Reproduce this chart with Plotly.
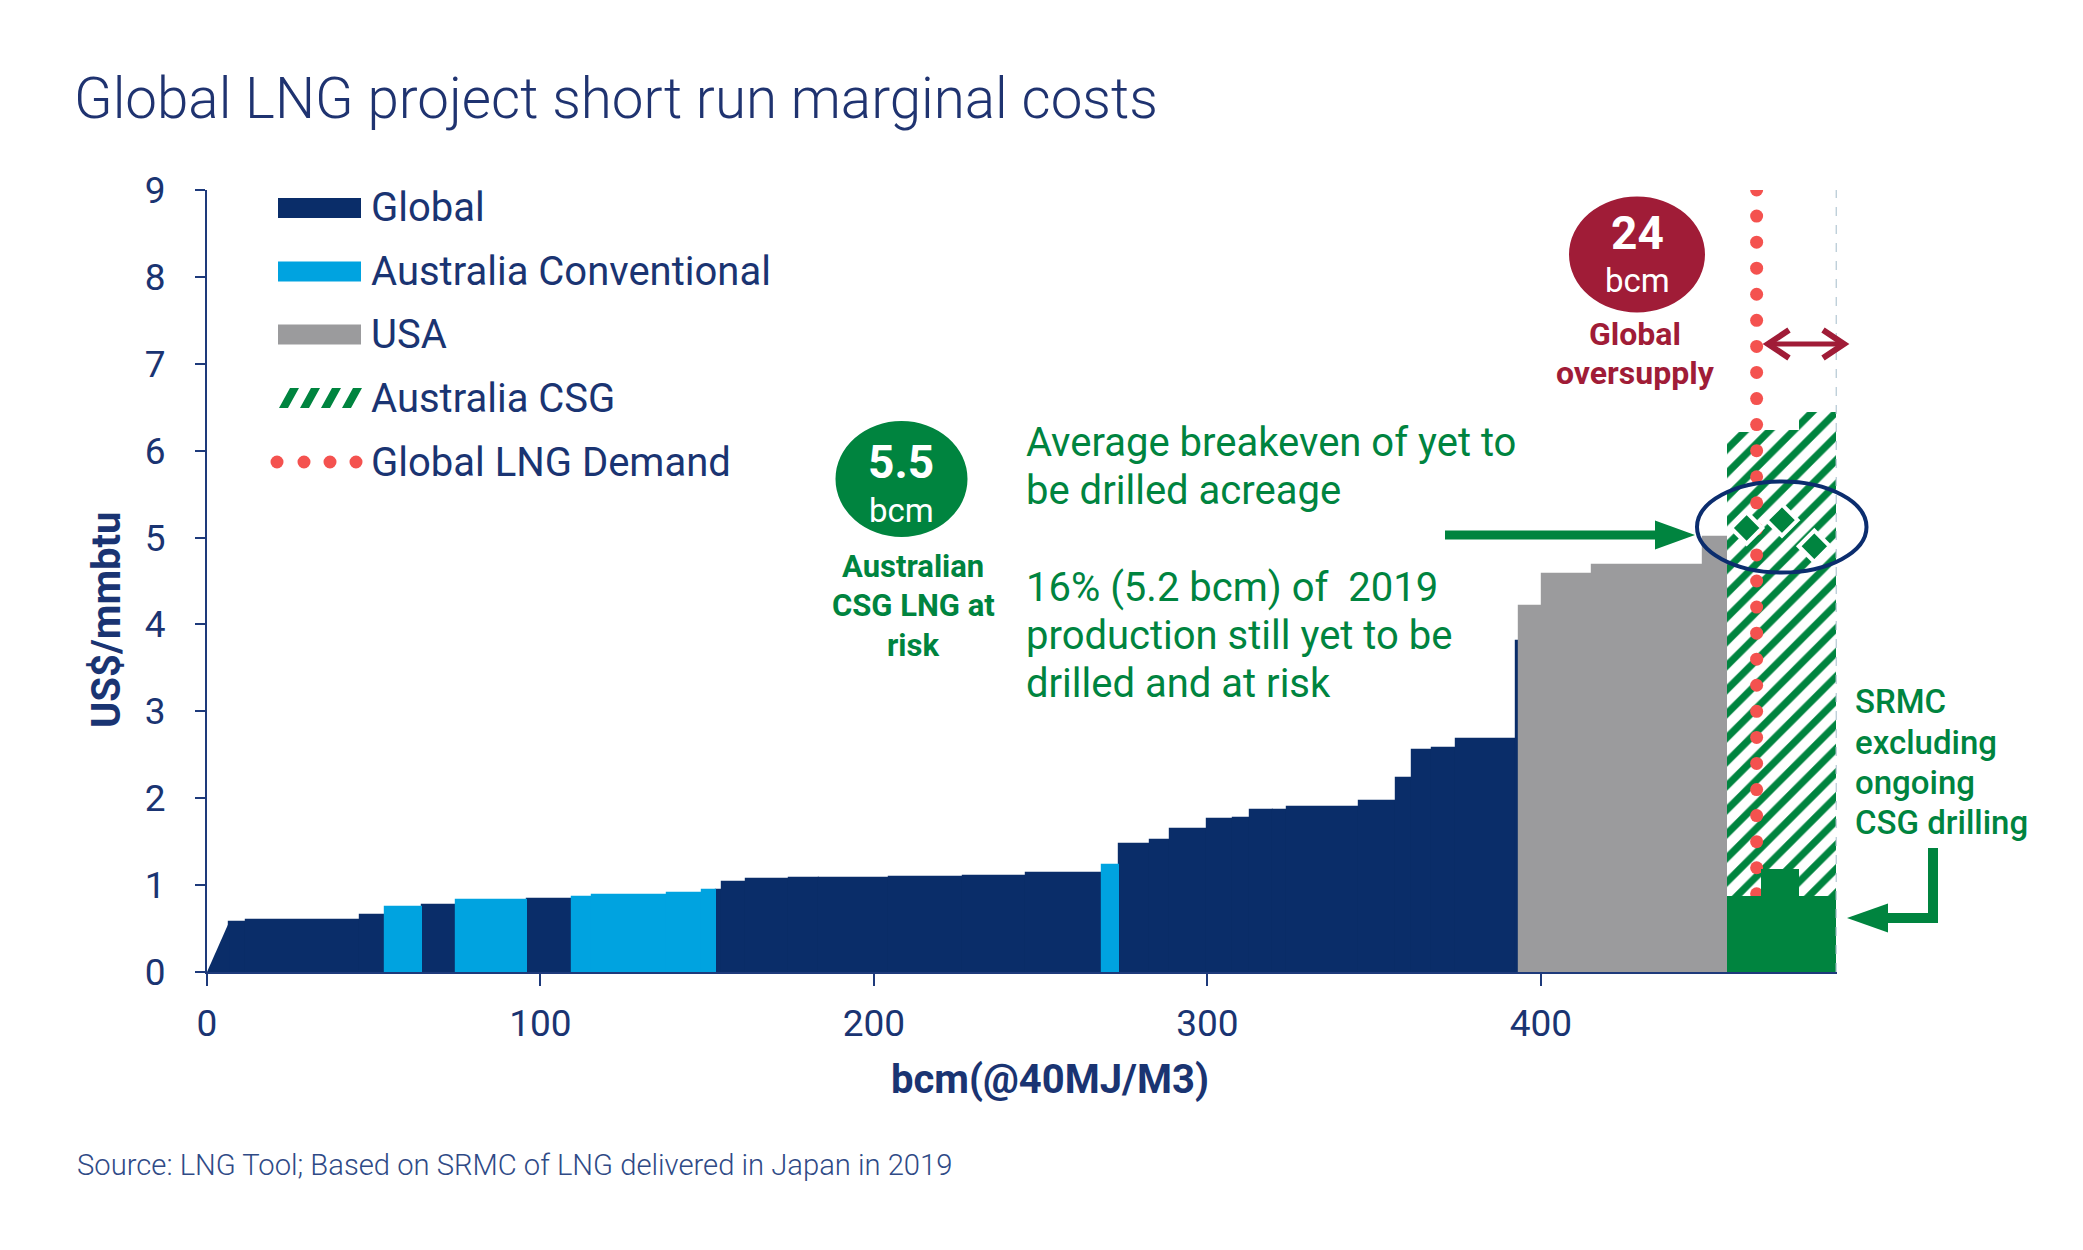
import numpy as np
import plotly.graph_objects as go

# ---------------- data ----------------
curve_start_bcm = 6.7
seg_end_bcm = [11.8, 45.8, 53.5, 64.6, 74.6, 95.9, 109.6, 115.6, 137.8, 148.5,
               152.5, 154.5, 161.5, 174.5, 183.6, 204.6, 226.6, 245.6, 268.5, 273.6,
               282.9, 288.9, 299.8, 307.8, 312.8, 319.8, 323.8, 345.5, 356.6, 361.5,
               367.4, 374.5, 392.6, 393.5, 400.3, 415.4, 448.7, 455.7]
seg_cost = [0.58, 0.60, 0.66, 0.75, 0.77, 0.83, 0.84, 0.86, 0.89, 0.905,
            0.94, 0.94, 1.04, 1.07, 1.08, 1.085, 1.09, 1.11, 1.14, 1.23,
            1.47, 1.52, 1.65, 1.76, 1.77, 1.86, 1.87, 1.90, 1.97, 2.23,
            2.55, 2.58, 2.68, 3.81, 4.21, 4.58, 4.68, 5.01]
seg_region = ["Global", "Global", "Global", "Australia Conventional", "Global",
              "Australia Conventional", "Global", "Australia Conventional",
              "Australia Conventional", "Australia Conventional",
              "Australia Conventional", "Global", "Global", "Global", "Global",
              "Global", "Global", "Global", "Global", "Australia Conventional",
              "Global", "Global", "Global", "Global", "Global", "Global", "Global",
              "Global", "Global", "Global", "Global", "Global", "Global", "Global",
              "USA", "USA", "USA", "USA"]

csg_end_bcm = [465.9, 477.3, 488.6]
csg_full_cost = [6.21, 6.24, 6.45]
csg_srmc_excl_drilling = [0.87, 1.19, 0.87]
breakeven_bcm = [461.7, 472.3, 482.0]
breakeven_cost = [5.11, 5.20, 4.90]
global_demand_bcm = 464.7

x_ticks = [0, 100, 200, 300, 400]
y_ticks = [0, 1, 2, 3, 4, 5, 6, 7, 8, 9]

# ---------------- style ----------------
NAVY = "#0A2D69"
CYAN = "#00A3E0"
GRAY = "#9B9B9D"
GREEN = "#00843F"
RED = "#F4524F"
MAROON = "#A01C37"
TXT = "#1A3472"
FONT = "Roboto, 'Open Sans', sans-serif"
region_color = {"Global": NAVY, "Australia Conventional": CYAN, "USA": GRAY}

W, H = 2083, 1250
L, R, T, B = 207, 1837, 190, 972
XMAX = 488.8


def px(X):
    return (X - L) / (R - L)


def py(Y):
    return (B - Y) / (B - T)


def P(X, Y):
    return f"{px(X):.5f},{py(Y):.5f}"


fig = go.Figure()

ends = np.array(seg_end_bcm)
starts = np.concatenate([[curve_start_bcm], ends[:-1]])
widths = ends - starts
mids = (starts + ends) / 2
costs = np.array(seg_cost)
regions = np.array(seg_region)

for reg in ["Global", "Australia Conventional", "USA"]:
    m = regions == reg
    fig.add_trace(go.Bar(
        x=mids[m], y=costs[m], width=widths[m], name=reg,
        marker=dict(color=region_color[reg], line=dict(width=1.2, color=region_color[reg])),
        showlegend=False, hoverinfo="skip"))

# ramp at start of curve
fig.add_trace(go.Scatter(
    x=[0, starts[0], starts[0]], y=[0, costs[0], 0], mode="lines",
    fill="toself", fillcolor=NAVY, line=dict(width=0, color=NAVY),
    showlegend=False, hoverinfo="skip"))

c_end = np.array(csg_end_bcm)
c_start = np.concatenate([[ends[-1]], c_end[:-1]])
c_w = c_end - c_start
c_mid = (c_start + c_end) / 2

fig.add_trace(go.Bar(
    x=c_mid, y=csg_full_cost, width=c_w, name="Australia CSG",
    marker=dict(color="white", line=dict(width=0),
                pattern=dict(shape="/", fgcolor=GREEN, bgcolor="white",
                             size=17, solidity=0.42, fillmode="replace")),
    showlegend=False, hoverinfo="skip"))

dot_y = np.arange(0, 9.0001, 0.3)
fig.add_trace(go.Scatter(
    x=[global_demand_bcm] * len(dot_y), y=dot_y, mode="markers",
    marker=dict(size=13, color=RED), name="Global LNG Demand",
    showlegend=False, hoverinfo="skip"))

# overlay subplot (drawn above demand dots)
fig.add_trace(go.Bar(
    x=c_mid, y=csg_srmc_excl_drilling, width=c_w, name="SRMC excl. drilling",
    marker=dict(color=GREEN, line=dict(width=0)), xaxis="x2", yaxis="y2",
    showlegend=False, hoverinfo="skip"))
fig.add_trace(go.Scatter(
    x=breakeven_bcm, y=breakeven_cost, mode="markers", xaxis="x2", yaxis="y2",
    marker=dict(symbol="diamond", size=24, color=GREEN, line=dict(color="white", width=4)),
    showlegend=False, hoverinfo="skip"))

shapes = []
annotations = []


def text(X, Y, s, size, color, weight=400, xanchor="left", angle=0):
    annotations.append(dict(
        x=px(X), y=py(Y), xref="paper", yref="paper", text=s, showarrow=False,
        xanchor=xanchor, yanchor="middle", textangle=angle,
        font=dict(family=FONT, size=size, color=color, weight=weight)))


# ---- legend (drawn inside plot) ----
legend_rows = [("Global", 208), ("Australia Conventional", 271.5), ("USA", 334.5),
               ("Australia CSG", 398), ("Global LNG Demand", 462)]
for (lab, yc) in legend_rows:
    text(369, yc, lab, 40, TXT)
for lab, yc in legend_rows[:3]:
    shapes.append(dict(type="rect", xref="paper", yref="paper", x0=px(278), x1=px(361),
                       y0=py(yc + 10), y1=py(yc - 10),
                       fillcolor=region_color[lab], line=dict(width=0)))
hatch_path = ""
for xb in [279, 300, 321, 342]:
    hatch_path += f"M{P(xb, 408)} L{P(xb + 9, 408)} L{P(xb + 20, 388)} L{P(xb + 11, 388)} Z "
shapes.append(dict(type="path", xref="paper", yref="paper", path=hatch_path,
                   fillcolor=GREEN, line=dict(width=0)))
for xc in [277, 304, 330, 356]:
    shapes.append(dict(type="circle", xref="paper", yref="paper",
                       x0=px(xc - 6.5), x1=px(xc + 6.5), y0=py(462 + 6.5), y1=py(462 - 6.5),
                       fillcolor=RED, line=dict(width=0)))

# ---- right boundary line ----
shapes.append(dict(type="line", xref="x", yref="y", x0=csg_end_bcm[-1], x1=csg_end_bcm[-1],
                   y0=0, y1=9, line=dict(color="#BFD0DA", width=1.5, dash="dash")))

# ---- green bubble ----
shapes.append(dict(type="circle", xref="paper", yref="paper", x0=px(835.5), x1=px(967.5),
                   y0=py(537), y1=py(421), fillcolor=GREEN, line=dict(width=0)))
text(901, 462, "<b>5.5</b>", 46, "white", 700, "center")
text(901, 510, "bcm", 33, "white", 400, "center")
text(913, 566, "Australian", 31, GREEN, 700, "center")
text(913, 605, "CSG LNG at", 31, GREEN, 700, "center")
text(913, 645, "risk", 31, GREEN, 700, "center")

# ---- green paragraphs ----
for s, yc in [("Average breakeven of yet to", 442), ("be drilled acreage", 490),
              ("16% (5.2 bcm) of  2019", 587), ("production still yet to be", 635),
              ("drilled and at risk", 683)]:
    text(1024, yc, s, 40, GREEN)

# ---- green horizontal arrow ----
shapes.append(dict(type="line", xref="paper", yref="paper", x0=px(1445), x1=px(1660),
                   y0=py(535), y1=py(535), line=dict(color=GREEN, width=9)))
shapes.append(dict(type="path", xref="paper", yref="paper",
                   path=f"M{P(1695, 535)} L{P(1655, 520.5)} L{P(1655, 549.5)} Z",
                   fillcolor=GREEN, line=dict(width=0)))

# ---- ellipse ----
shapes.append(dict(type="circle", xref="paper", yref="paper", x0=px(1697), x1=px(1866.5),
                   y0=py(572.5), y1=py(481.5), line=dict(color="#0B2D6E", width=4)))

# ---- maroon bubble ----
shapes.append(dict(type="circle", xref="paper", yref="paper", x0=px(1569), x1=px(1705),
                   y0=py(312.5), y1=py(196.5), fillcolor=MAROON, line=dict(width=0)))
text(1637, 233, "<b>24</b>", 46, "white", 700, "center")
text(1637, 281, "bcm", 33, "white", 400, "center")
text(1635, 334, "Global", 32, MAROON, 700, "center")
text(1635, 373, "oversupply", 32, MAROON, 700, "center")

# ---- maroon double arrow ----
shapes.append(dict(type="line", xref="paper", yref="paper", x0=px(1769), x1=px(1843),
                   y0=py(344), y1=py(344), line=dict(color=MAROON, width=5)))
shapes.append(dict(type="path", xref="paper", yref="paper",
                   path=f"M{P(1789, 330)} L{P(1768, 344)} L{P(1789, 358)}",
                   line=dict(color=MAROON, width=6)))
shapes.append(dict(type="path", xref="paper", yref="paper",
                   path=f"M{P(1823, 330)} L{P(1844, 344)} L{P(1823, 358)}",
                   line=dict(color=MAROON, width=6)))

# ---- SRMC note & elbow arrow ----
for s, yc in [("SRMC", 701), ("excluding", 742), ("ongoing", 782), ("CSG drilling", 822)]:
    text(1853, yc, s, 33, GREEN, 500)
shapes.append(dict(type="line", xref="paper", yref="paper", x0=px(1933), x1=px(1933),
                   y0=py(848), y1=py(923), line=dict(color=GREEN, width=10)))
shapes.append(dict(type="line", xref="paper", yref="paper", x0=px(1938), x1=px(1880),
                   y0=py(918), y1=py(918), line=dict(color=GREEN, width=10)))
shapes.append(dict(type="path", xref="paper", yref="paper",
                   path=f"M{P(1847, 918)} L{P(1888, 903.5)} L{P(1888, 932.5)} Z",
                   fillcolor=GREEN, line=dict(width=0)))

# ---- axis titles & source ----
text(1050, 1079, "<b>bcm(@40MJ/M3)</b>", 40, TXT, 700, "center")
text(106, 620, "<b>US$/mmbtu</b>", 40, TXT, 700, "center", angle=-90)
text(75, 1165, "Source: LNG Tool; Based on SRMC of LNG delivered in Japan in 2019",
     29.2, "#2F4A86", 300)

axis_common = dict(showgrid=False, zeroline=False, showline=True, linecolor="#1E3A7B",
                   linewidth=2, ticks="outside", tickcolor="#1E3A7B", tickwidth=2,
                   tickfont=dict(family=FONT, size=37, color=TXT))

fig.update_layout(
    width=W, height=H, margin=dict(l=L, r=W - R, t=T, b=H - B),
    paper_bgcolor="white", plot_bgcolor="white", barmode="overlay", bargap=0,
    showlegend=False,
    title=dict(text="Global LNG project short run marginal costs", x=74 / W, xanchor="left",
               xref="container", y=1 - 98 / H, yref="container", yanchor="middle",
               font=dict(family=FONT, size=56.5, color="#1F3370", weight=300)),
    xaxis=dict(range=[0, XMAX], tickvals=x_ticks, ticklen=12, ticklabelstandoff=6,
               **axis_common),
    yaxis=dict(range=[0, 9], tickvals=y_ticks, ticklen=10, ticklabelstandoff=22,
               **axis_common),
    xaxis2=dict(range=[0, XMAX], overlaying="x", anchor="y2", visible=False),
    yaxis2=dict(range=[0, 9], overlaying="y", anchor="x2", visible=False),
    shapes=shapes, annotations=annotations,
)

fig.write_html("out.html", config={"displayModeBar": False},
               post_script="document.body.style.margin='0';document.body.style.overflow='hidden';")
